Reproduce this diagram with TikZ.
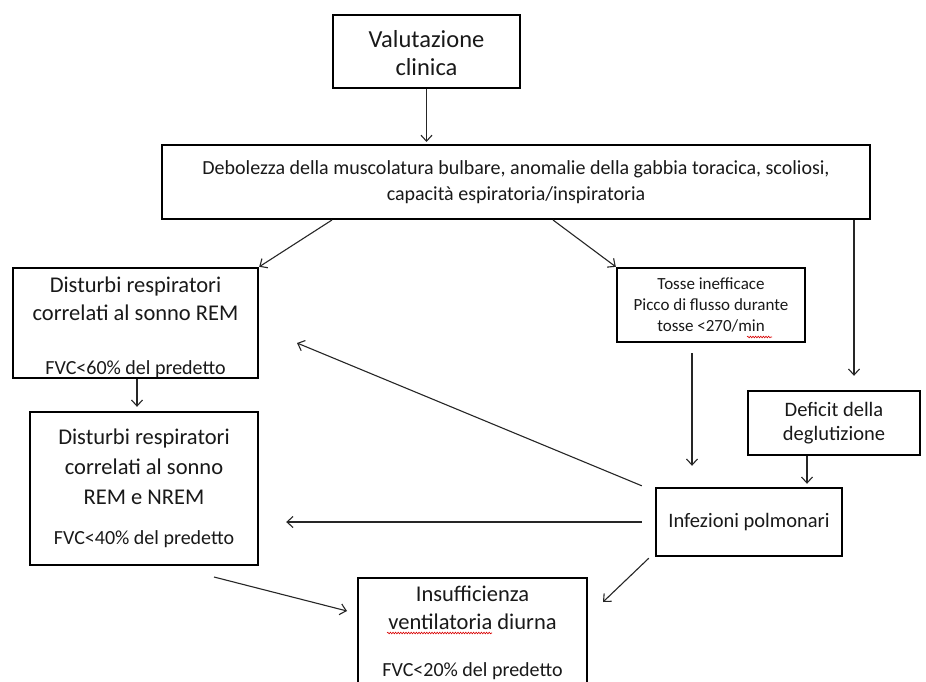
\documentclass[tikz,border=0pt]{standalone}
\usepackage{fontspec}
\setmainfont{Carlito}
\usetikzlibrary{arrows.meta,calc,decorations.pathmorphing}
\begin{document}
\begin{tikzpicture}[x=1pt,y=-1pt,
  box/.style={draw=black, line width=2.4pt, inner sep=0pt, align=center, text=black!90},
  arr/.style={draw=black!85, line width=1.1pt, -{Straight Barb[length=6pt,width=11pt,line width=1.1pt]}},
  squig/.style={draw=red!85!black, line width=0.6pt, decorate, decoration={snake, amplitude=0.8pt, segment length=2.6pt}}]
\clip (0,0) rectangle (926,682);
\fill[white] (0,0) rectangle (926,682);

\node[box, minimum width=187pt, minimum height=73pt, font=\fontsize{24.5}{28}\selectfont] (val) at (426.5,51.5) {\rule{0pt}{21pt}Valutazione\\clinica};
\node[box, line width=2pt, minimum width=708pt, minimum height=74pt, font=\fontsize{20}{26}\selectfont] (deb) at (516,182) {Debolezza della muscolatura bulbare, anomalie della gabbia toracica, scoliosi,\\capacità espiratoria/inspiratoria};
\node[box, minimum width=245pt, minimum height=110pt, font=\fontsize{22.5}{28}\selectfont] (rem) at (135.5,323) {\rule{0pt}{24pt}Disturbi respiratori\\correlati al sonno REM\\[26pt]\fontsize{20}{28}\selectfont FVC<60\% del predetto};
\node[box, minimum width=228pt, minimum height=153pt, font=\fontsize{22.5}{30}\selectfont] (nrem) at (144,488.5) {Disturbi respiratori\\correlati al sonno\\REM e NREM\\[10pt]\fontsize{20}{30}\selectfont FVC<40\% del predetto};
\node[box, minimum width=188pt, minimum height=74pt, font=\fontsize{17}{21}\selectfont] (tosse) at (711,305) {Tosse inefficace\\Picco di flusso durante\\tosse <270/min};
\node[box, minimum width=172pt, minimum height=64pt, font=\fontsize{20.5}{24}\selectfont] (def) at (834,423) {Deficit della\\deglutizione};
\node[box, minimum width=186pt, minimum height=68pt, font=\fontsize{20.5}{24}\selectfont] (inf) at (749,522) {Infezioni polmonari};
\node[box, minimum width=229pt, minimum height=109pt, font=\fontsize{22.5}{28}\selectfont] (ins) at (472.5,632.5) {Insufficienza\\ventilatoria diurna\\[19pt]\fontsize{20}{28}\selectfont FVC<20\% del predetto};

\coordinate (remtip) at (297,343);
\coordinate (nremstart) at (214,577);
\coordinate (instip) at (347,611);
\coordinate (instip2) at (603,602);
\coordinate (dr) at ([xshift=338pt]deb.south);
\coordinate (rs) at ([xshift=1.5pt]rem.south);
\coordinate (ts) at ([xshift=-19pt]tosse.south);
\coordinate (ds) at ([xshift=-27pt]def.south);

\draw[arr, shorten >=2pt] (val.south) -- (val.south |- deb.north);
\draw[arr] ([xshift=-184pt]deb.south) -- (rem.north east);
\draw[arr] ([xshift=37pt]deb.south) -- (tosse.north west);
\draw[arr, shorten >=14pt] (dr) -- (dr |- def.north);
\draw[arr, shorten >=4pt] (rs) -- (rs |- nrem.north);
\draw[arr, shorten <=10pt, shorten >=21pt] (ts) -- (ts |- inf.north);
\draw[arr, shorten >=3pt] (ds) -- (ds |- inf.north);
\draw[arr] ([xshift=-13pt,yshift=1pt]inf.north west) -- (remtip);
\draw[arr, shorten <=13pt, shorten >=27pt] (inf.west) -- (inf.west -| nrem.east);
\draw[arr] (nremstart) -- (instip);
\draw[arr] ([xshift=-6pt,yshift=-1pt]inf.south west) -- (instip2);

\draw[squig] (747,337) -- (772,337);
\draw[squig] (387,633) -- (492,633);
\end{tikzpicture}
\end{document}
